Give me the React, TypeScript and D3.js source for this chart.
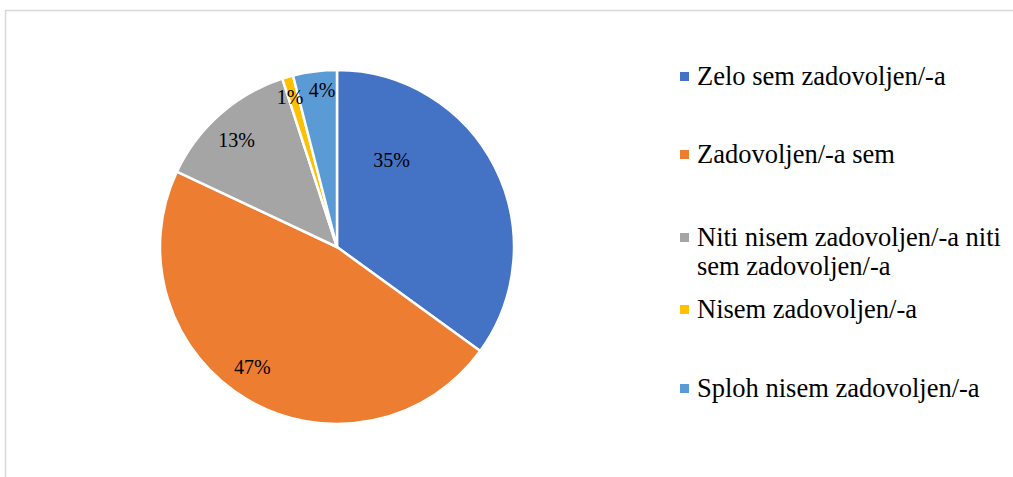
import React from "react";
import * as d3 from "d3";

const categories = [
  "Zelo sem zadovoljen/-a",
  "Zadovoljen/-a sem",
  "Niti nisem zadovoljen/-a niti sem zadovoljen/-a",
  "Nisem zadovoljen/-a",
  "Sploh nisem zadovoljen/-a",
];
const legendLines = [
  ["Zelo sem zadovoljen/-a"],
  ["Zadovoljen/-a sem"],
  ["Niti nisem zadovoljen/-a niti", "sem zadovoljen/-a"],
  ["Nisem zadovoljen/-a"],
  ["Sploh nisem zadovoljen/-a"],
];
const values = [35, 47, 13, 1, 4];
const colors = ["#4472C4", "#ED7D31", "#A5A5A5", "#FFC000", "#5B9BD5"];

const width = 1013;
const height = 477;
const cx = 337;
const cy = 247;
const radius = 177;
const font = "Liberation Serif";

// legend baselines (first line of each entry)
const legendBase = [85, 163, 246, 318, 397];

export default function App() {
  const arcs = d3.pie<number>().sort(null).value(d => d)(values);
  const arc = d3.arc<d3.PieArcDatum<number>>().innerRadius(0).outerRadius(radius);

  // data labels near the mid angle, small slices pushed outward
  const nudge = [0, 0.08, -0.03, -0.02, 0.03];
  const labelPos = (d: d3.PieArcDatum<number>, i: number) => {
    let a = (d.startAngle + d.endAngle) / 2 + nudge[i];
    let r = d.value < 5 ? radius * 0.89 : radius * 0.83;
    if (i === 0) { a = 0.56; r = radius * 0.58; } // big slice label sits nearer the top
    return [Math.sin(a) * r, -Math.cos(a) * r];
  };

  return (
    <div style={{ position: "absolute", left: 0, top: 0, fontFamily: font }}>
      <svg width={width} height={height} fontFamily={font}>
        {/* chart frame */}
        <path d={`M5.5,${height} V10.5 H${width}`} fill="none" stroke="#d9d9d9" strokeWidth={1.5} />

        <g transform={`translate(${cx},${cy})`}>
          {arcs.map((d, i) => (
            <path
              key={i}
              d={arc(d) || ""}
              fill={colors[i]}
              stroke="#fff"
              strokeWidth={2.5}
              strokeLinejoin="round"
            />
          ))}
          {arcs.map((d, i) => {
            const [x, y] = labelPos(d, i);
            return (
              <text
                key={"l" + i}
                x={x}
                y={y}
                dy="0.35em"
                textAnchor="middle"
                fontSize={20}
                fontFamily={font}
              >
                {`${d.value}%`}
              </text>
            );
          })}
        </g>

        {categories.map((c, i) => {
          const by = legendBase[i];
          return (
            <g key={c}>
              <rect x={680} y={by - 13} width={9} height={9} fill={colors[i]} />
              <text x={697} y={by} fontSize={26.5} fontFamily={font}>
                {legendLines[i].map((line, j) => (
                  <tspan key={j} x={697} y={by + j * 29}>
                    {line}
                  </tspan>
                ))}
              </text>
            </g>
          );
        })}
      </svg>
    </div>
  );
}
